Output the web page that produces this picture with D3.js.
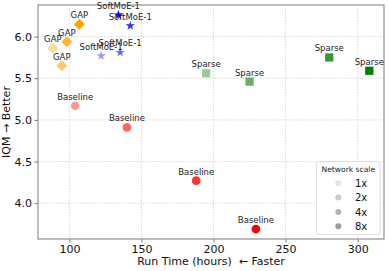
<!DOCTYPE html>
<html><head><meta charset="utf-8">
<script src="https://cdn.jsdelivr.net/npm/d3@7"></script>
<style>body{margin:0;background:#fff;} svg{display:block;font-family:"DejaVu Sans",sans-serif;}</style>
</head><body><svg id="c" width="389" height="271"></svg>
<script>
const scales = ["1x","2x","4x","8x"];
const alphas = [0.4, 0.6, 0.8, 1.0];
const methods = ["Baseline","Sparse","GAP","SoftMoE-1"];
const colors = ["#ff0000","#008000","#ffa500","#0000ff"];
const shapes = ["circle","square","diamond","star"];
const baselineX = [104.0, 139.9, 188.0, 229.4];
const baselineY = [5.17, 4.91, 4.27, 3.69];
const sparseX = [194.9, 225.0, 280.3, 308.1];
const sparseY = [5.56, 5.46, 5.75, 5.59];
const gapX = [88.5, 94.7, 98.2, 106.9];
const gapY = [5.86, 5.65, 5.94, 6.15];
const softX = [122.0, 135.2, 142.2, 134.0];
const softY = [5.77, 5.81, 6.13, 6.26];
const xTicks = [100, 150, 200, 250, 300];
const yTicks = [4.0, 4.5, 5.0, 5.5, 6.0];
const xLabel = "Run Time (hours)  \u2190 Faster";
const yLabel = "IQM \u2192 Better";
const legendTitle = "Network scale";

const seriesX = [baselineX, sparseX, gapX, softX];
const seriesY = [baselineY, sparseY, gapY, softY];

const svg = d3.select("#c");
const L = 38, R = 384, T = 5, B = 239;
const x = d3.scaleLinear().domain([78.2, 318.3]).range([L, R]);
const y = d3.scaleLinear().domain([3.57, 6.38]).range([B, T]);

// grid
svg.append("g").selectAll("line").data(xTicks).join("line")
  .attr("x1", d => x(d)).attr("x2", d => x(d)).attr("y1", T).attr("y2", B)
  .attr("stroke", "#d0d0d0").attr("stroke-width", 0.8).attr("stroke-dasharray", "1.5,1.5");
svg.append("g").selectAll("line").data(yTicks).join("line")
  .attr("y1", d => y(d)).attr("y2", d => y(d)).attr("x1", L).attr("x2", R)
  .attr("stroke", "#d0d0d0").attr("stroke-width", 0.8).attr("stroke-dasharray", "1.5,1.5");

// axes
const xa = svg.append("g").attr("transform", `translate(0,${B})`)
  .call(d3.axisBottom(x).tickValues(xTicks).tickFormat(d3.format("d")).tickSize(3.5).tickPadding(2.5));
const ya = svg.append("g").attr("transform", `translate(${L},0)`)
  .call(d3.axisLeft(y).tickValues(yTicks).tickFormat(d3.format(".1f")).tickSize(3.5).tickPadding(2.5));
[xa, ya].forEach(a => {
  a.select(".domain").remove();
  a.selectAll(".tick line").attr("stroke", "#555").attr("stroke-width", 0.8);
  a.selectAll(".tick text").attr("font-size", 11).attr("fill", "#111").attr("font-family", "DejaVu Sans");
});
// spines
svg.append("rect").attr("x", L).attr("y", T).attr("width", R - L).attr("height", B - T)
  .attr("fill", "none").attr("stroke", "#888").attr("stroke-width", 1.1);

// axis labels
svg.append("text").attr("x", (L + R) / 2).attr("y", 265).attr("text-anchor", "middle")
  .attr("font-size", 11).attr("fill", "#111").style("white-space", "pre").attr("xml:space", "preserve").text(xLabel);
svg.append("text").attr("transform", `translate(10,${(T + B) / 2}) rotate(-90)`).attr("text-anchor", "middle")
  .attr("font-size", 11).attr("fill", "#111").text(yLabel);

function symPath(shape) {
  if (shape === "circle") return d3.symbol(d3.symbolCircle, 60)();
  if (shape === "square") return d3.symbol(d3.symbolSquare, 68)();
  if (shape === "star") return d3.symbol(d3.symbolStar, 27)();
  const s = 5.5; return `M0,${-s}L${s},0L0,${s}L${-s},0Z`;
}

const pts = [];
methods.forEach((m, mi) => {
  seriesX[mi].forEach((vx, i) => pts.push({m, mi, i, vx, vy: seriesY[mi][i]}));
});
const g = svg.append("g");
g.selectAll("path").data(pts).join("path")
  .attr("d", d => symPath(shapes[d.mi]))
  .attr("transform", d => `translate(${x(d.vx)},${y(d.vy)})`)
  .attr("fill", d => colors[d.mi]).attr("fill-opacity", d => alphas[d.i]);
g.selectAll("text").data(pts).join("text")
  .attr("x", d => x(d.vx)).attr("y", d => y(d.vy) - 6)
  .attr("text-anchor", "middle").attr("font-size", 8.5).attr("fill", "#222")
  .text(d => d.m);

// legend
const lg = svg.append("g");
lg.append("rect").attr("x", 316.5).attr("y", 161.5).attr("width", 63.5).attr("height", 73)
  .attr("rx", 2.5).attr("fill", "#fff").attr("fill-opacity", 0.85).attr("stroke", "#d6d6d6").attr("stroke-width", 0.8);
lg.append("text").attr("x", 348.3).attr("y", 171.5).attr("text-anchor", "middle")
  .attr("font-size", 7.6).attr("fill", "#222").text(legendTitle);
const legGrey = ["#e4e4e4", "#cbcbcb", "#b4b4b4", "#9d9d9d"];
scales.forEach((s, i) => {
  const cy = 183.3 + i * 14.3;
  lg.append("circle").attr("cx", 338.3).attr("cy", cy).attr("r", 3).attr("fill", legGrey[i]);
  lg.append("text").attr("x", 355).attr("y", cy + 3.6).attr("font-size", 10).attr("fill", "#111").text(s);
});
</script></body></html>
